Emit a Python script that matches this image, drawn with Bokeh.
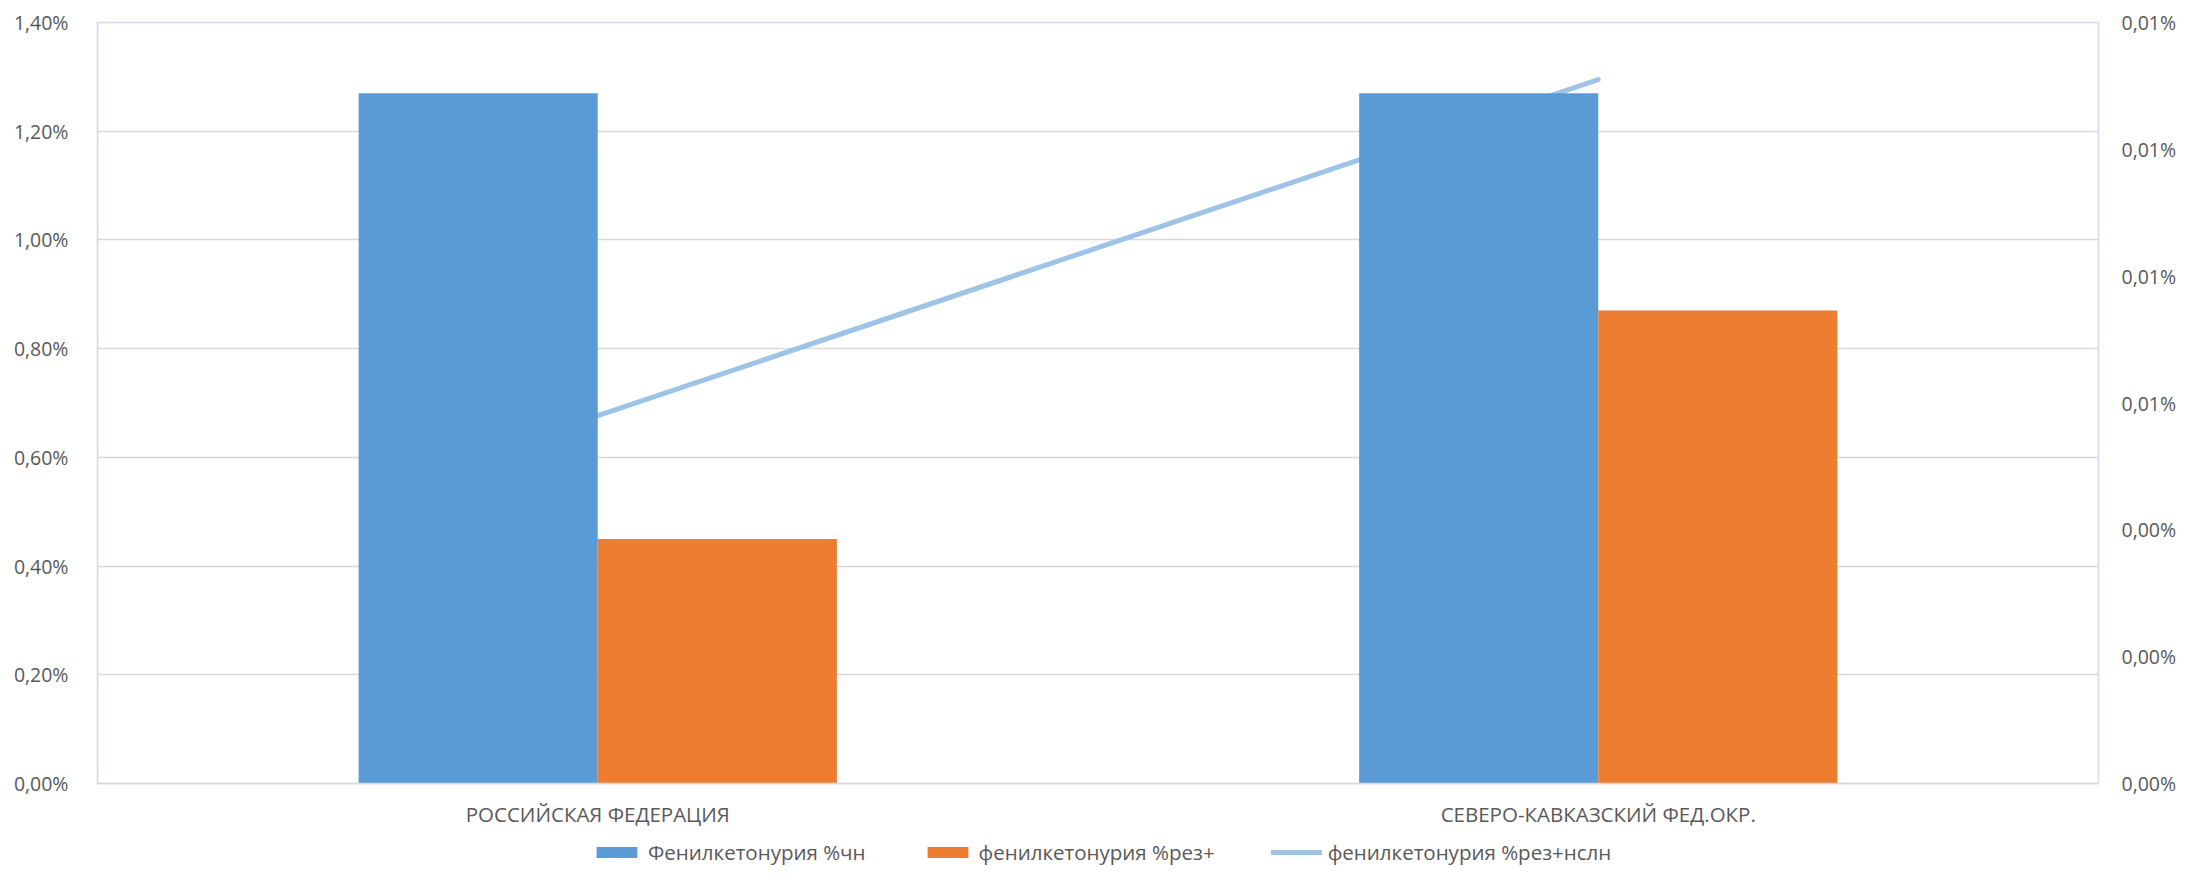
from bokeh.plotting import figure
from bokeh.layouts import column
from bokeh.models import (Range1d, LinearAxis, FixedTicker, CustomJSTickFormatter,
                          Legend, LegendItem, FactorRange, ColumnDataSource)
from bokeh.transform import dodge
from bokeh.embed import file_html
from bokeh.resources import INLINE

# ---- data ----
categories = ["РОССИЙСКАЯ ФЕДЕРАЦИЯ", "СЕВЕРО-КАВКАЗСКИЙ ФЕД.ОКР."]
pku_chn = [1.27, 1.27]            # Фенилкетонурия %чн (left axis, %)
pku_rez = [0.45, 0.87]            # фенилкетонурия %рез+ (left axis, %)
pku_rez_nsln = [0.0058, 0.0111]   # фенилкетонурия %рез+нслн (right axis, %)
series_names = ["Фенилкетонурия %чн", "фенилкетонурия %рез+", "фенилкетонурия %рез+нслн"]
left_ticks = [0, 0.2, 0.4, 0.6, 0.8, 1.0, 1.2, 1.4]
right_ticks = [0, 0.002, 0.004, 0.006, 0.008, 0.010, 0.012]

FONT = "Open Sans"
FSIZE = "19.5px"
TCOL = "#595959"
BLUE = "#5B9BD5"
ORANGE = "#ED7D31"
LBLUE = "#9DC3E6"
W = 2179

src = ColumnDataSource(dict(cat=categories, a=pku_chn, b=pku_rez, c=pku_rez_nsln))

p = figure(x_range=FactorRange(*categories), y_range=Range1d(0, 1.4),
           width=W, height=832, output_backend="svg", toolbar_location=None,
           min_border_left=97, min_border_right=73, min_border_top=22, min_border_bottom=49)
p.extra_y_ranges = {"right": Range1d(0, 0.012)}

fmt_code = "return tick.toFixed(2).replace('.', ',') + '%';"

# line (drawn behind bars)
line_kw = dict(line_color=LBLUE, line_width=5, line_cap="round")
p.line(x="cat", y="c", source=src, y_range_name="right", **line_kw)

bw = 0.239
p.vbar(x=dodge("cat", -bw / 2, range=p.x_range), top="a", width=bw, source=src,
       fill_color=BLUE, line_color=None)
p.vbar(x=dodge("cat", bw / 2, range=p.x_range), top="b", width=bw, source=src,
       fill_color=ORANGE, line_color=None)

# left axis
p.yaxis.ticker = FixedTicker(ticks=left_ticks)
p.yaxis.formatter = CustomJSTickFormatter(code=fmt_code)
p.yaxis.axis_line_color = None
p.yaxis.major_tick_line_color = None
p.yaxis.minor_tick_line_color = None
p.yaxis.major_label_standoff = 23
p.yaxis.major_label_text_font = FONT
p.yaxis.major_label_text_font_size = FSIZE
p.yaxis.major_label_text_color = TCOL

# right axis
ax_r = LinearAxis(y_range_name="right", ticker=FixedTicker(ticks=right_ticks),
                  formatter=CustomJSTickFormatter(code=fmt_code))
ax_r.axis_line_color = None
ax_r.major_tick_line_color = None
ax_r.minor_tick_line_color = None
ax_r.major_label_standoff = 17
ax_r.major_label_text_font = FONT
ax_r.major_label_text_font_size = FSIZE
ax_r.major_label_text_color = TCOL
p.add_layout(ax_r, "right")

# x axis
p.xaxis.axis_line_color = "#D9D9D9"
p.xaxis.axis_line_width = 1.5
p.xaxis.major_tick_line_color = None
p.xaxis.minor_tick_line_color = None
p.xaxis.major_label_standoff = 10
p.xaxis.major_label_text_font = FONT
p.xaxis.major_label_text_font_size = "20.5px"
p.xaxis.major_label_text_color = TCOL

# grid and frame
p.xgrid.grid_line_color = None
p.ygrid.ticker = FixedTicker(ticks=left_ticks)
p.ygrid.grid_line_color = "#D9D9D9"
p.ygrid.grid_line_width = 1.5
p.outline_line_color = "#CADBEC"
p.outline_line_width = 1.5
p.background_fill_color = "white"
p.border_fill_color = "white"

# ---- legend strip below the chart (swatch-only glyphs sit outside its view) ----
lg = figure(width=W, height=34, x_range=Range1d(0, 1), y_range=Range1d(0, 1),
            output_backend="svg", toolbar_location=None,
            min_border_left=0, min_border_right=0, min_border_top=0, min_border_bottom=0)
lg.axis.visible = False
lg.grid.grid_line_color = None
lg.outline_line_color = None
lg.background_fill_color = "white"
lg.border_fill_color = "white"
hidden = ColumnDataSource(dict(x=[-10, -9], y=[-10, -10]))
g_a = lg.vbar(x="x", top="y", width=0.1, source=hidden, fill_color=BLUE, line_color=None)
g_b = lg.vbar(x="x", top="y", width=0.1, source=hidden, fill_color=ORANGE, line_color=None)
g_c = lg.line(x="x", y="y", source=hidden, **line_kw)

legend = Legend(items=[LegendItem(label=series_names[0], renderers=[g_a]),
                       LegendItem(label=series_names[1], renderers=[g_b]),
                       LegendItem(label=series_names[2], renderers=[g_c])],
                orientation="horizontal", location=(494, 0),
                border_line_color=None, background_fill_alpha=0,
                padding=0, margin=0, spacing=56, label_standoff=6,
                glyph_width=51, glyph_height=14,
                label_text_font=FONT, label_text_font_size="20.5px",
                label_text_color=TCOL)
lg.add_layout(legend)

open("out.html", "w").write(file_html(column(p, lg, spacing=0), INLINE))
